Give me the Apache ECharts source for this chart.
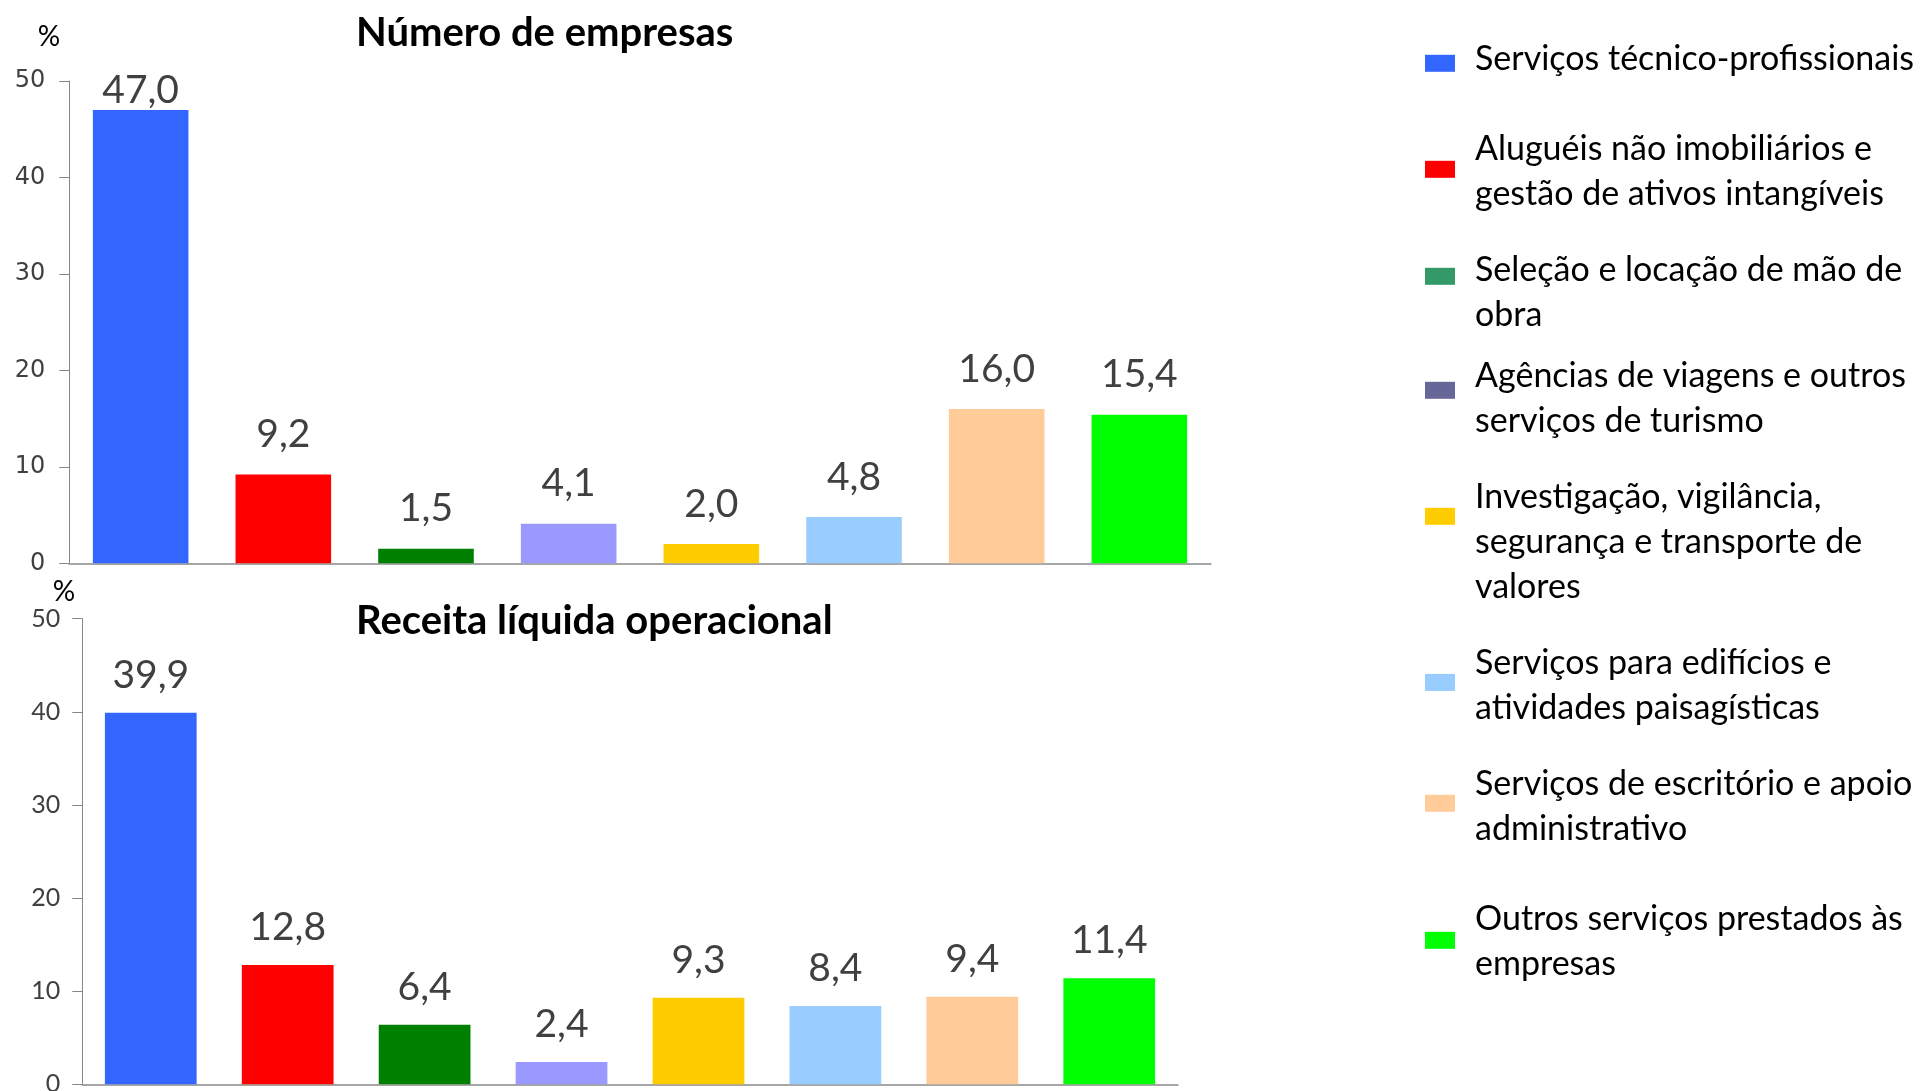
<!DOCTYPE html>
<html>
<head>
<meta charset="utf-8">
<script src="https://cdn.jsdelivr.net/npm/echarts@6/dist/echarts.min.js"></script>
<style>
html,body{margin:0;padding:0;background:#fff;}
#chart{width:1924px;height:1091px;}
</style>
</head>
<body>
<div id="chart"></div>
<script>
const categories = [
  'Serviços técnico-profissionais',
  'Aluguéis não imobiliários e gestão de ativos intangíveis',
  'Seleção e locação de mão de obra',
  'Agências de viagens e outros serviços de turismo',
  'Investigação, vigilância, segurança e transporte de valores',
  'Serviços para edifícios e atividades paisagísticas',
  'Serviços de escritório e apoio administrativo',
  'Outros serviços prestados às empresas'
];
const legendLabels = [
  'Serviços técnico-profissionais',
  'Aluguéis não imobiliários e\ngestão de ativos intangíveis',
  'Seleção e locação de mão de\nobra',
  'Agências de viagens e outros\nserviços de turismo',
  'Investigação, vigilância,\nsegurança e transporte de\nvalores',
  'Serviços para edifícios e\natividades paisagísticas',
  'Serviços de escritório e apoio\nadministrativo',
  'Outros serviços prestados às\nempresas'
];
const numeroEmpresas = [47.0, 9.2, 1.5, 4.1, 2.0, 4.8, 16.0, 15.4];
const receitaLiquida = [39.9, 12.8, 6.4, 2.4, 9.3, 8.4, 9.4, 11.4];
const titles = ['Número de empresas', 'Receita líquida operacional'];
const yMin = 0, yMax = 50, yStep = 10;
const unitLabel = '%';

const barColors = ['#3366FF', '#FF0000', '#008000', '#9999FF', '#FFCC00', '#99CCFF', '#FFCC99', '#00FF00'];
const legendColors = ['#3366FF', '#FF0000', '#339966', '#666699', '#FFCC00', '#99CCFF', '#FFCC99', '#00FF00'];

// legend layout: top of each entry, and spacer heights to offset text vs. icon
const legendLayout = [
  {top: 37,    sTop: 0,    sBot: 7.6},
  {top: 121.6, sTop: 5.4,  sBot: 0},
  {top: 214.6, sTop: 33.4, sBot: 0},
  {top: 336.6, sTop: 17.4, sBot: 0},
  {top: 423.1, sTop: 51.4, sBot: 0},
  {top: 634.3, sTop: 6.2,  sBot: 0},
  {top: 755.4, sTop: 5.8,  sBot: 0},
  {top: 894.1, sTop: 2.4,  sBot: 0}
];

const fmt = v => v.toFixed(1).replace('.', ',');

function makeSeries(values, idx) {
  return categories.map((name, i) => ({
    name: name,
    type: 'bar',
    xAxisIndex: idx,
    yAxisIndex: idx,
    stack: 'chart' + idx,
    barCategoryGap: '33%',
    itemStyle: {color: barColors[i]},
    emphasis: {disabled: true},
    data: values.map((v, j) => j === i ? {
      value: v,
      label: {distance: v > 45 ? 0.5 : (idx === 0 ? 20.5 : 18)}
    } : null),
    label: {
      show: true,
      position: 'top',
      distance: 18,
      formatter: p => fmt(p.value),
      fontFamily: 'Lato',
      fontSize: 39,
      color: '#404040'
    }
  }));
}

function yAxisCfg(idx, labelFont, labelSize, labelMargin, nameGap, namePadRight) {
  return {
    type: 'value',
    gridIndex: idx,
    min: yMin, max: yMax, interval: yStep,
    name: unitLabel,
    nameLocation: 'end',
    nameGap: nameGap,
    nameTextStyle: {
      fontFamily: 'Lato', fontSize: 28, color: '#000',
      align: 'right', verticalAlign: 'middle',
      padding: [0, namePadRight, 0, 0]
    },
    axisLine: {show: true, lineStyle: {color: '#868686', width: 1}},
    axisTick: {show: true, length: 10, lineStyle: {color: '#868686'}},
    splitLine: {show: false},
    axisLabel: {fontFamily: labelFont, fontSize: labelSize, color: '#404040', margin: labelMargin}
  };
}

function xAxisCfg(idx) {
  return {
    type: 'category',
    gridIndex: idx,
    data: categories,
    axisLabel: {show: false},
    axisTick: {show: false},
    axisLine: {show: true, lineStyle: {color: '#A6A6A6', width: 2}}
  };
}

function legendText(i) {
  const L = legendLayout[i];
  let t = legendLabels[i];
  if (L.sTop > 0) t = '{sp| }\n' + t;
  if (L.sBot > 0) t = t + '\n{sp| }';
  return t;
}

const chart = echarts.init(document.getElementById('chart'), null, {renderer: 'canvas'});
chart.setOption({
  animation: false,
  backgroundColor: '#fff',
  title: [
    {text: titles[0], left: 356, top: 13, padding: 0,
     textStyle: {fontFamily: 'Lato', fontWeight: 'bold', fontSize: 40, color: '#000'}},
    {text: titles[1], left: 356, top: 601, padding: 0,
     textStyle: {fontFamily: 'Lato', fontWeight: 'bold', fontSize: 40, color: '#000'}}
  ],
  grid: [
    {left: 69.3, top: 81, width: 1141.4, height: 482.3, outerBoundsMode: 'none', containLabel: false},
    {left: 82.3, top: 618.7, width: 1095.4, height: 465.6, outerBoundsMode: 'none', containLabel: false}
  ],
  xAxis: [xAxisCfg(0), xAxisCfg(1)],
  yAxis: [
    yAxisCfg(0, 'DejaVu Sans', 24, 24, 44, 9),
    yAxisCfg(1, 'Lato', 25, 22, 22.7, 7)
  ],
  legend: categories.map((name, i) => ({
    data: [{name: name, itemStyle: {color: legendColors[i]}}],
    left: 1425,
    top: legendLayout[i].top,
    padding: 0,
    itemWidth: 30,
    itemHeight: 17,
    icon: 'rect',
    selectedMode: false,
    formatter: () => legendText(i),
    textStyle: {
      fontFamily: 'Lato', fontSize: 34, lineHeight: 45, color: '#000',
      padding: [0, 0, 0, 15],
      rich: {
        sp: {fontSize: 1, lineHeight: Math.max(legendLayout[i].sTop, legendLayout[i].sBot)}
      }
    }
  })),
  series: [...makeSeries(numeroEmpresas, 0), ...makeSeries(receitaLiquida, 1)]
});
</script>
</body>
</html>
